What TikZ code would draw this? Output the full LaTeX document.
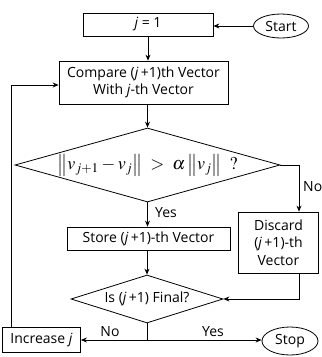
\documentclass[tikz,border=0pt]{standalone}
\usepackage{mathptmx}
\usepackage{fontspec}
\setmainfont{Open Sans}
\usetikzlibrary{shapes.geometric,arrows.meta}
\begin{document}
\begin{tikzpicture}[x=1pt,y=-1pt,
  every node/.style={font=\fontsize{14}{17.5}\selectfont},
  box/.style={draw,line width=0.8pt,inner sep=0pt,align=center},
  term/.style={draw,ellipse,line width=0.8pt,inner sep=0pt},
  test/.style={draw,diamond,line width=0.8pt,inner sep=0pt},
  flow/.style={line width=0.8pt,-{Stealth[length=6pt,width=5pt]}},
  link/.style={line width=0.8pt},
  lbl/.style={inner sep=0pt}]
\useasboundingbox (0,0) rectangle (322,357);

% process boxes and terminals
\node[box,minimum width=130pt,minimum height=23pt] (j1) at (148,24.5) {\textit{j} = 1};
\node[term,minimum width=55pt,minimum height=24pt] (start) at (281,26) {Start};
\node[box,minimum width=169pt,minimum height=43pt] (cmp) at (143.5,82.5)
  {Compare (\textit{j}\,+1)th Vector\\With \textit{j}-th Vector};
\node[test,minimum width=265pt,minimum height=74pt,aspect=3.58] (d1) at (147.5,165)
  {\fontsize{18}{20}\selectfont$\left\| v_{j+1} - v_j \right\| \;>\; \alpha \left\| v_j \right\| \;\;?$};
\node[box,minimum width=163pt,minimum height=23pt] (store) at (148.5,238.5)
  {Store (\textit{j}\,+1)-th Vector};
\node[box,minimum width=80pt,minimum height=61pt] (disc) at (278.5,242.5)
  {Discard\\(\textit{j}\,+1)-th\\Vector};
\node[test,minimum width=152pt,minimum height=48pt,aspect=3.17] (d2) at (147,299)
  {Is (\textit{j}\,+1) Final?};
\node[box,minimum width=78pt,minimum height=25pt] (inc) at (41.5,340) {Increase \textit{j}};
\node[term,minimum width=56pt,minimum height=28pt] (stop) at (290,341) {Stop};

% bends of the connectors
\coordinate (noturn) at (299,165);
\coordinate (back) at (299,299);
\coordinate (split) at (147,340);
\coordinate (loop) at (11,85);

% connectors
\draw[flow] (start.west) -- (start.west -| j1.east);
\draw[flow] (j1.south) -- (j1.south |- cmp.north);
\draw[flow] (d1.north |- cmp.south) -- (d1.north);
\draw[flow] (d1.east) -- (noturn) -- (noturn |- disc.north);
\draw[flow] (d1.south) -- (d1.south |- store.north);
\draw[flow] (d2.north |- store.south) -- (d2.north);
\draw[flow] (back |- disc.south) -- (back) -- (d2.east);
\draw[link] (d2.south) -- (split);
\draw[flow] (split) -- (split -| inc.east);
\draw[flow] (split) -- (split -| stop.west);
\draw[flow] (inc.north -| loop) -- (loop) -- (loop -| cmp.west);

% branch labels
\node[lbl,anchor=west] (no1) at (303,187) {No};
\node[lbl,anchor=west] (yes1) at (155,213) {Yes};
\node[lbl,anchor=south] (no2) at (110,337) {No};
\node[lbl,anchor=south] (yes2) at (213,337) {Yes};
\end{tikzpicture}
\end{document}
